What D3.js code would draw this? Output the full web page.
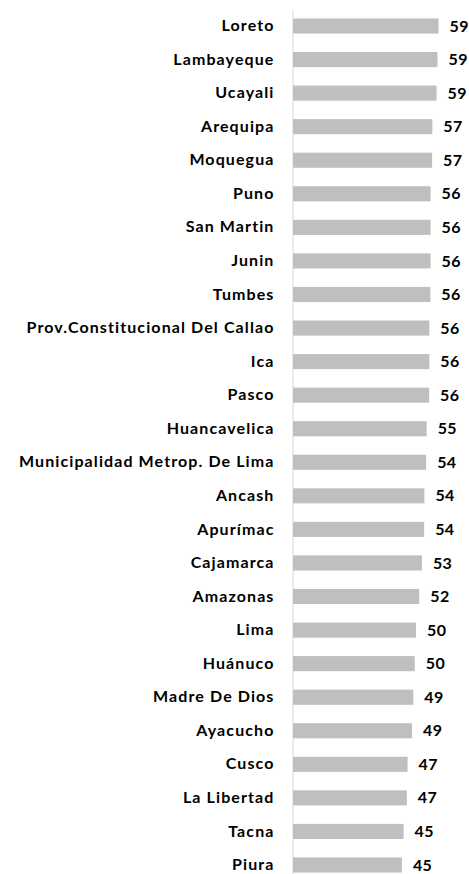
<!DOCTYPE html>
<html>
<head>
<meta charset="utf-8">
<script src="https://cdn.jsdelivr.net/npm/d3@7"></script>
<style>
  body { margin: 0; background: #fff; }
  svg { display: block; }
  .axis-y text { font-family: Lato, sans-serif; font-weight: 700; font-size: 16px; letter-spacing: 1.1px; fill: #000; }
  .value-label { font-family: Lato, sans-serif; font-weight: 700; font-size: 16px; letter-spacing: 0.4px; fill: #000; }
</style>
</head>
<body>
<div class="chart"></div>
<script>
"use strict";

// Regions, top to bottom
const regions = [
  "Loreto", "Lambayeque", "Ucayali", "Arequipa", "Moquegua", "Puno",
  "San Martin", "Junin", "Tumbes", "Prov.Constitucional Del Callao", "Ica",
  "Pasco", "Huancavelica", "Municipalidad Metrop. De Lima", "Ancash",
  "Apurímac", "Cajamarca", "Amazonas", "Lima", "Huánuco", "Madre De Dios",
  "Ayacucho", "Cusco", "La Libertad", "Tacna", "Piura"
];

// Values (estimated with decimals from bar lengths)
const values = [
  59.4, 59.0, 58.6, 56.9, 56.8, 56.2,
  56.2, 56.2, 56.1, 55.7, 55.7,
  55.6, 54.6, 54.4, 53.7,
  53.6, 52.7, 51.6, 50.3, 49.8, 49.2,
  48.7, 46.9, 46.6, 45.3, 44.6
];

const data = regions.map((name, i) => ({ name, value: values[i] }));

function drawChart(data) {
  const width = 469;
  const height = 874;

  const svg = d3.select(".chart")
    .append("svg")
      .attr("width", width)
      .attr("height", height);

  // Scales
  const step = 33.56;
  const yTop = 26 - step / 2;
  const yScale = d3.scaleBand()
    .domain(data.map(d => d.name))
    .range([yTop, yTop + step * data.length])
    .paddingInner(0.55)
    .paddingOuter(0.275);

  const xScale = d3.scaleLinear()
    .domain([0, 60])
    .range([291.5, 291.5 + 2.475 * 60]);

  const axisX = 292.5;

  // Category axis
  const yAxis = d3.axisLeft(yScale)
    .tickSize(0)
    .tickSizeOuter(0)
    .tickPadding(18);

  svg.append("g")
      .attr("class", "axis-y")
      .attr("transform", `translate(${axisX}, 0)`)
      .call(yAxis)
      .call(g => g.select(".domain").attr("stroke", "#d9d9d9").attr("stroke-width", 1));

  // Bars
  svg.selectAll("rect.bar")
    .data(data)
    .join("rect")
      .attr("class", "bar")
      .attr("x", axisX + 0.5)
      .attr("y", d => yScale(d.name))
      .attr("width", d => xScale(d.value) - axisX - 0.5)
      .attr("height", yScale.bandwidth())
      .attr("fill", "#bfbfbf");

  // Value labels
  svg.selectAll("text.value-label")
    .data(data)
    .join("text")
      .attr("class", "value-label")
      .attr("x", d => xScale(d.value) + 11)
      .attr("y", d => yScale(d.name) + yScale.bandwidth() / 2)
      .attr("dy", "0.35em")
      .text(d => Math.round(d.value));
}

drawChart(data);
</script>
</body>
</html>
